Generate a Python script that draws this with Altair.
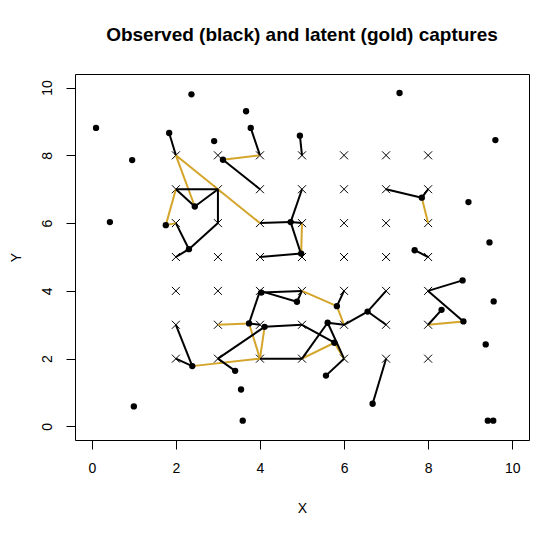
import altair as alt
import pandas as pd

title_text = "Observed (black) and latent (gold) captures"

# trap grid (x marks)
trap_x = [2, 3, 4, 5, 6, 7, 8]
trap_y = [2, 3, 4, 5, 6, 7, 8]

# activity centres (black dots)
center_x = [0.10, 2.37, 3.67, 1.84, 3.78, 2.91, 4.95, 0.96, 3.12, 2.45,
            0.43, 1.76, 4.73, 2.31, 4.98, 7.32, 9.60, 7.85, 8.96, 9.46,
            7.68, 4.03, 4.88, 3.74, 4.11, 3.41, 2.39, 3.55, 1.00, 3.59,
            8.82, 9.56, 8.32, 8.84, 9.37, 9.42, 9.55, 6.68, 6.56, 5.83,
            5.61, 5.77, 5.57]
center_y = [8.81, 9.80, 9.30, 8.66, 8.81, 8.42, 8.58, 7.86, 7.87, 6.49,
            6.03, 5.94, 6.03, 5.23, 5.10, 9.84, 8.45, 6.75, 6.62, 5.43,
            5.20, 3.95, 3.68, 3.04, 2.94, 1.64, 1.78, 1.09, 0.59, 0.17,
            4.31, 3.69, 3.44, 3.10, 2.42, 0.17, 0.17, 0.67, 3.39, 3.55,
            3.06, 2.47, 1.50]

# observed captures (black segments)
black_x1 = [1.84, 3.78, 4.95, 3.12, 2.45, 2.45, 2, 3, 2.31, 2.31,
            2.31, 4.73, 4.73, 4.73, 4.73, 4.98, 7.85, 7.85, 7.68, 8.82,
            8.84, 8.32, 6.56, 6.56, 6.56, 6.68, 5.83, 5.61, 5.61, 5.61,
            5.77, 5.57, 4.03, 4.88, 4.88, 3.74, 3.74, 4.11, 4.11, 3.41,
            2.39, 2.39, 4]
black_y1 = [8.66, 8.81, 8.58, 7.87, 6.49, 6.49, 7, 7, 5.23, 5.23,
            5.23, 6.03, 6.03, 6.03, 6.03, 5.10, 6.75, 6.75, 5.20, 4.31,
            3.10, 3.44, 3.39, 3.39, 3.39, 0.67, 3.55, 3.06, 3.06, 3.06,
            2.47, 1.50, 3.95, 3.68, 3.68, 3.04, 3.04, 2.94, 2.94, 1.64,
            1.78, 1.78, 2]
black_x2 = [2, 4, 5, 4, 2, 3, 3, 3, 2, 3,
            2, 5, 4, 5, 5, 4, 7, 8, 8, 8,
            8, 8, 7, 7, 6, 7, 6, 6, 5, 6,
            5, 6, 5, 4, 5, 4, 4, 5, 3, 3,
            2, 2, 5]
black_y2 = [8, 8, 8, 7, 7, 7, 7, 6, 6, 6,
            5, 7, 6, 6, 5, 5, 7, 7, 5, 4,
            4, 3, 4, 3, 3, 2, 4, 3, 2, 2,
            3, 2, 4, 4, 4, 4, 3, 3, 2, 2,
            3, 2, 2]

# latent captures (gold segments)
gold_x1 = [3.12, 2.45, 2, 1.76, 1.76, 4.98, 7.85, 8.84, 5.83, 5.83,
           5.77, 5.77, 3.74, 3.74, 4.11, 2.39]
gold_y1 = [7.87, 6.49, 8, 5.94, 5.94, 5.10, 6.75, 3.10, 3.55, 3.55,
           2.47, 2.47, 3.04, 3.04, 2.94, 1.78]
gold_x2 = [4, 2, 4, 2, 2, 5, 8, 8, 5, 6,
           5, 6, 3, 4, 4, 4]
gold_y2 = [8, 8, 6, 7, 6, 6, 6, 3, 4, 3,
           2, 2, 3, 2, 2, 2]

ticks = [0, 2, 4, 6, 8, 10]
domain = [-0.4, 10.4]
FONT = "Liberation Sans"

traps = pd.DataFrame([(a, b) for b in trap_y for a in trap_x], columns=["x", "y"])
centers = pd.DataFrame({"x": center_x, "y": center_y})
black = pd.DataFrame({"x": black_x1, "y": black_y1, "x2": black_x2, "y2": black_y2})
gold = pd.DataFrame({"x": gold_x1, "y": gold_y1, "x2": gold_x2, "y2": gold_y2})

xscale = alt.Scale(domain=domain, nice=False, zero=False)
yscale = alt.Scale(domain=domain, nice=False, zero=False)

xaxis = alt.Axis(values=ticks, title="X", grid=False, domain=False,
                 tickSize=9, tickColor="black", tickWidth=1,
                 labelFont=FONT, labelFontSize=14, labelColor="black",
                 labelPadding=12, labelBaseline="top", labelAngle=0,
                 titleFont=FONT, titleFontSize=14, titleFontWeight="normal",
                 titleColor="black", titleX=227, titleY=72,
                 titleBaseline="alphabetic", titleAlign="center")
yaxis = alt.Axis(values=ticks, title="Y", grid=False, domain=False,
                 tickSize=9, tickColor="black", tickWidth=1,
                 labelFont=FONT, labelFontSize=14, labelColor="black",
                 labelPadding=15, labelAngle=270, labelAlign="center",
                 labelBaseline="alphabetic",
                 titleFont=FONT, titleFontSize=14, titleFontWeight="normal",
                 titleColor="black", titleAngle=270, titleX=-55, titleY=183,
                 titleBaseline="alphabetic", titleAlign="center")

X = alt.X("x:Q", scale=xscale, axis=xaxis)
Y = alt.Y("y:Q", scale=yscale, axis=yaxis)

cross = "M-1,-1L1,1M-1,1L1,-1"

trap_layer = alt.Chart(traps).mark_point(
    shape=cross, filled=False, color="black", strokeWidth=1, size=64, opacity=1
).encode(x=X, y=Y)

gold_layer = alt.Chart(gold).mark_rule(color="#D4A52A", strokeWidth=2).encode(
    x=X, y=Y, x2="x2:Q", y2="y2:Q")

black_layer = alt.Chart(black).mark_rule(color="black", strokeWidth=2).encode(
    x=X, y=Y, x2="x2:Q", y2="y2:Q")

center_layer = alt.Chart(centers).mark_circle(color="black", size=40, opacity=1).encode(
    x=X, y=Y)

chart = alt.layer(trap_layer, gold_layer, black_layer, center_layer).properties(
    width=454, height=366,
    title=alt.TitleParams(text=title_text, font=FONT, fontSize=19, fontWeight="bold",
                          color="black", anchor="middle", offset=14,
                          baseline="alphabetic"),
    autosize=alt.AutoSizeParams(type="none"),
    padding={"left": 67, "top": 66, "right": 20, "bottom": 80},
    background="white",
).configure_view(stroke="black", strokeWidth=1)

chart.save("out.html", embed_options={"renderer": "svg", "actions": False})
